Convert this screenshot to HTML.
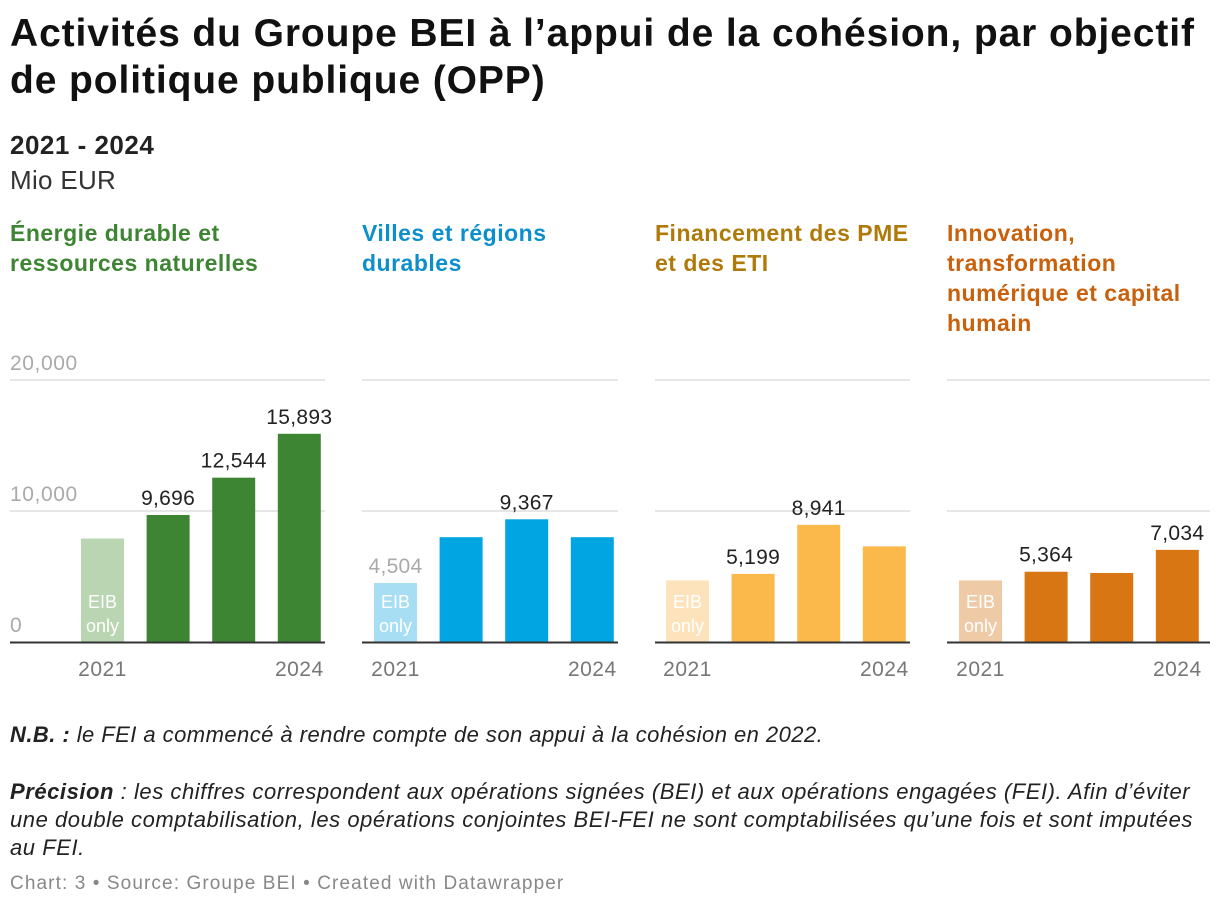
<!DOCTYPE html>
<html><head><meta charset="utf-8">
<style>
body{margin:0;width:1220px;height:910px;background:#fff;font-family:"Liberation Sans",sans-serif;overflow:hidden;position:relative}
.t{position:absolute;left:10px;margin:0}
</style></head><body>
<div class="t" style="top:10px;font-size:39px;font-weight:bold;line-height:47px;color:#111;letter-spacing:0.9px;width:1210px;white-space:nowrap">Activités du Groupe BEI à l’appui de la cohésion, par objectif<br>de politique publique (OPP)</div>
<div class="t" style="top:130px;font-size:26px;font-weight:bold;color:#222;letter-spacing:0.5px">2021 - 2024</div>
<div class="t" style="top:165px;font-size:26px;color:#333;letter-spacing:0.3px">Mio EUR</div>
<svg id="c" width="1220" height="700" style="position:absolute;left:0;top:210px" font-family="Liberation Sans, sans-serif"></svg>
<div class="t" style="top:722px;font-size:22px;font-style:italic;color:#222;letter-spacing:0.45px"><b>N.B. :</b> le FEI a commencé à rendre compte de son appui à la cohésion en 2022.</div>
<div class="t" style="top:778px;font-size:22px;font-style:italic;color:#222;line-height:28px;width:1210px;letter-spacing:0.55px;white-space:nowrap"><b>Précision</b> : les chiffres correspondent aux opérations signées (BEI) et aux opérations engagées (FEI). Afin d’éviter<br>une double comptabilisation, les opérations conjointes BEI-FEI ne sont comptabilisées qu’une fois et sont imputées<br>au FEI.</div>
<div class="t" style="top:873px;font-size:19px;color:#888;letter-spacing:1.1px">Chart: 3 • Source: Groupe BEI • Created with Datawrapper</div>
<script>
const years=["2021","2022","2023","2024"];
const titles=[["Énergie durable et","ressources naturelles"],["Villes et régions","durables"],["Financement des PME","et des ETI"],["Innovation,","transformation","numérique et capital","humain"]];
const values1=[7900,9696,12544,15893];
const values2=[4504,8000,9367,8000];
const values3=[4700,5199,8941,7300];
const values4=[4700,5364,5270,7034];
const shown1=[false,true,true,true];
const shown2=[true,false,true,false];
const shown3=[false,true,true,false];
const shown4=[false,true,false,true];
const ticks=[0,10000,20000];
const allVals=[values1,values2,values3,values4];
const allShown=[shown1,shown2,shown3,shown4];
const panelX=[10,362,655,947],panelW=[315,256,255,263],firstBar=[81,374,666,959];
const cols=["#3e8533","#00a5e2","#fbb84b","#d87613"],light=["#b9d5b2","#a8def3","#fde3bb","#efcaa6"],tcol=["#3e8533","#0d8fcc","#b07a0a","#c8600c"];
const svg=document.getElementById('c'),NS="http://www.w3.org/2000/svg";
const y0=432,sc=131/10000;const y=v=>y0-v*sc;
function mk(t,a,txt){const e=document.createElementNS(NS,t);for(const k in a)e.setAttribute(k,a[k]);if(txt!=null)e.textContent=txt;svg.appendChild(e);return e;}
for(let p=0;p<4;p++){
  titles[p].forEach((l,i)=>{const e=mk('text',{x:panelX[p],y:31+i*30,'font-size':23,'font-weight':'bold',fill:tcol[p],'letter-spacing':0.5},l);
  });
  ticks.forEach(t=>{if(t>0){const g=mk('line',{x1:panelX[p],x2:panelX[p]+panelW[p],y1:y(t),y2:y(t),stroke:'#ddd','stroke-width':1.5});
    }
    if(p==0){const e=mk('text',{x:10,y:y(t)-10,'font-size':21,fill:'#aaa','letter-spacing':0.6},t.toLocaleString('en-US'));
    }});
  allVals[p].forEach((v,i)=>{const x=firstBar[p]+i*65.6;
    const r=mk('rect',{x:x,y:y(v),width:43,height:v*sc,fill:i==0?light[p]:cols[p]});
    
    if(allShown[p][i]){const e=mk('text',{x:x+21.5,y:y(v)-10,'font-size':21,fill:i==0?'#aaa':'#222','text-anchor':'middle','letter-spacing':0.3},v.toLocaleString('en-US'));
      }
    if(i==0){['EIB','only'].forEach((w,k)=>{const e=mk('text',{x:x+21.5,y:y0-34+k*24,'font-size':18,fill:'#fff','text-anchor':'middle'},w);
      });}
  });
  const b=mk('line',{x1:panelX[p],x2:panelX[p]+panelW[p],y1:y0+0.5,y2:y0+0.5,stroke:'#333','stroke-width':2});
  
  [0,3].forEach(i=>{const e=mk('text',{x:firstBar[p]+i*65.6+21.5,y:y0+34,'font-size':21,fill:'#777','text-anchor':'middle','letter-spacing':0.5},years[i]);
    });
}
</script>
</body></html>
